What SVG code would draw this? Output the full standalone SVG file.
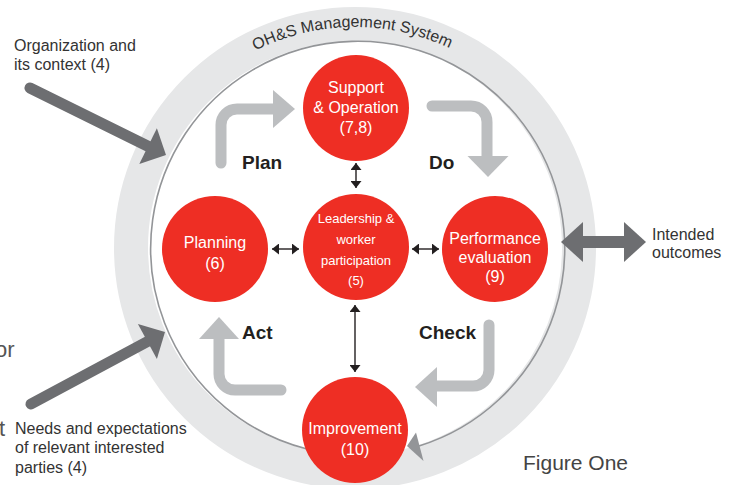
<svg xmlns="http://www.w3.org/2000/svg" width="739" height="485" viewBox="0 0 739 485">
<style>
.lbl{font-family:"Liberation Sans","DejaVu Sans",sans-serif;font-size:16px;fill:#333333}
.node{fill:#ee2e24}
.nt{font-family:"Liberation Sans","DejaVu Sans",sans-serif;font-size:16px;fill:#ffffff;text-anchor:middle}
.nts{font-family:"Liberation Sans","DejaVu Sans",sans-serif;font-size:13px;fill:#ffffff;text-anchor:middle}
.pdca{fill:none;stroke:#bcbec0;stroke-width:11;stroke-linecap:round}
.pdcah{fill:#bcbec0}
.dark{fill:none;stroke:#6d6e71;stroke-width:11;stroke-linecap:round}
.darkh{fill:#6d6e71}
.small{stroke:#231f20;stroke-width:1.4;fill:none}
.phase{font-family:"Liberation Sans","DejaVu Sans",sans-serif;font-size:19px;font-weight:bold;fill:#231f20}
</style>
<defs>
<marker id="ah" viewBox="0 0 7 11" refX="7" refY="5.5" markerWidth="7" markerHeight="11" markerUnits="userSpaceOnUse" orient="auto-start-reverse">
<path d="M0,0 L7,5.5 L0,11 Z" fill="#231f20"/>
</marker>
<path id="ringText" d="M134,248 A221,221 0 0 1 576,248"/>
</defs>
<rect x="0" y="0" width="739" height="485" fill="#ffffff"/>

<g id="ring">
<circle cx="355" cy="248" r="224" fill="none" stroke="#e6e7e8" stroke-width="34"/>
<text font-family="Liberation Sans, DejaVu Sans, sans-serif" font-size="16" fill="#333333" text-anchor="middle"><textPath href="#ringText" startOffset="49.6%">OH&amp;S Management System</textPath></text>
</g>

<g id="connectors">
<g id="cycle-line">
<path d="M307,449 A207,207 0 1 1 419,446" fill="none" stroke="#939598" stroke-width="1.6"/>
<polygon points="407,446 416,432.5 423.5,461" fill="#939598"/>
</g>
<g id="input-context">
<line class="dark" x1="30" y1="88" x2="149" y2="146.7"/>
<polygon class="darkh" points="166,155 139.3,164.1 156.9,128.3"/>
</g>
<g id="input-needs">
<line class="dark" x1="31" y1="404" x2="148.5" y2="341"/>
<polygon class="darkh" points="165,332 156.9,359.1 137.9,323.9"/>
</g>
<g id="outcomes-arrow">
<rect x="580" y="236" width="47" height="12" fill="#6d6e71"/>
<polygon class="darkh" points="561,242 583,222 583,262"/>
<polygon class="darkh" points="646,242 624,222 624,262"/>
</g>
<g id="pdca-arrows">
<path class="pdca" d="M221,163 V125 A16,16 0 0 1 237,109 H275"/>
<polygon class="pdcah" points="273,90 295,109 273,128"/>
<path class="pdca" d="M432,106 H471 A16,16 0 0 1 487,122 V158"/>
<polygon class="pdcah" points="467.5,156 508.5,156 488,177"/>
<path class="pdca" d="M489,325 V370 A16,16 0 0 1 473,386 H435"/>
<polygon class="pdcah" points="437,367 437,407 415,387"/>
<path class="pdca" d="M281,390 H235 A16,16 0 0 1 219,374 V337"/>
<polygon class="pdcah" points="199,339 239,339 219,317"/>
</g>
<g id="links">
<line class="small" x1="356" y1="163" x2="356" y2="188" marker-start="url(#ah)" marker-end="url(#ah)"/>
<line class="small" x1="272" y1="249" x2="299" y2="249" marker-start="url(#ah)" marker-end="url(#ah)"/>
<line class="small" x1="412" y1="249" x2="439" y2="249" marker-start="url(#ah)" marker-end="url(#ah)"/>
<line class="small" x1="355" y1="305" x2="355" y2="372" marker-start="url(#ah)" marker-end="url(#ah)"/>
</g>
</g>

<g id="phase-labels">
<text class="phase" x="242" y="169">Plan</text>
<text class="phase" x="429" y="169">Do</text>
<text class="phase" x="242" y="339">Act</text>
<text class="phase" x="419" y="339">Check</text>
</g>

<g id="node-support">
<circle class="node" cx="356" cy="108" r="53"/>
<text class="nt" x="356" y="93">Support</text>
<text class="nt" x="356" y="113">&amp; Operation</text>
<text class="nt" x="356" y="133">(7,8)</text>
</g>
<g id="node-leadership">
<circle class="node" cx="356" cy="247" r="53"/>
<text class="nts" x="356" y="223">Leadership &amp;</text>
<text class="nts" x="356" y="244">worker</text>
<text class="nts" x="356" y="265">participation</text>
<text class="nts" x="356" y="285">(5)</text>
</g>
<g id="node-planning">
<circle class="node" cx="215" cy="249" r="53"/>
<text class="nt" x="215" y="248">Planning</text>
<text class="nt" x="215" y="269">(6)</text>
</g>
<g id="node-performance">
<circle class="node" cx="495" cy="249" r="53"/>
<text class="nt" x="495" y="244">Performance</text>
<text class="nt" x="495" y="263">evaluation</text>
<text class="nt" x="495" y="282">(9)</text>
</g>
<g id="node-improvement">
<circle class="node" cx="355" cy="430" r="53"/>
<text class="nt" x="355" y="434">Improvement</text>
<text class="nt" x="355" y="455">(10)</text>
</g>

<g id="outside-labels">
<text class="lbl" x="14" y="51">Organization and</text>
<text class="lbl" x="14" y="70">its context (4)</text>
<text class="lbl" x="15" y="434">Needs and expectations</text>
<text class="lbl" x="15" y="453">of relevant interested</text>
<text class="lbl" x="15" y="473">parties (4)</text>
<text class="lbl" x="652" y="240">Intended</text>
<text class="lbl" x="652" y="258">outcomes</text>
<text font-family="Liberation Sans, DejaVu Sans, sans-serif" font-size="21" fill="#444444" x="523" y="470">Figure One</text>
<text font-family="Liberation Sans, DejaVu Sans, sans-serif" font-size="22" fill="#555555" x="-5" y="357">or</text>
<text font-family="Liberation Sans, DejaVu Sans, sans-serif" font-size="22" fill="#555555" x="-1" y="436">t</text>
</g>
</svg>
